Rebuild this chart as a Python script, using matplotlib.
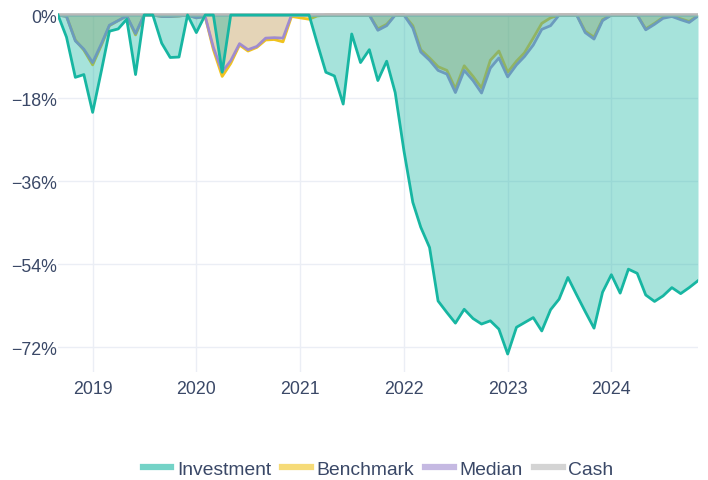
import matplotlib
matplotlib.use("Agg")
import matplotlib.pyplot as plt
from matplotlib.lines import Line2D
from matplotlib.ticker import FuncFormatter, FixedLocator
import matplotlib.dates as mdates
import pandas as pd

plt.rcParams['font.family'] = ['Liberation Sans', 'DejaVu Sans']

# ---- data (drawdown, %) monthly from Sep 2018 to Nov 2024 ----
start_month = "2018-09-01"
investment = [0, -4.8, -13.5, -12.9, -21.1, -12.0, -3.5, -3.0, -0.9, -12.9,
              0, 0, -6.1, -9.2, -9.1, 0, -3.8, 0, 0, -12.4,
              0, 0, 0, 0, 0, 0, 0, 0, 0, 0,
              -6.0, -12.4, -13.2, -19.3, -4.1, -10.3, -7.5, -14.2, -10.0, -16.8,
              -29.5, -40.6, -46.0, -50.4, -62.0, -64.5, -66.8, -63.8, -65.8, -67.0,
              -66.3, -68.1, -73.5, -67.7, -66.7, -65.6, -68.5, -63.9, -61.6, -56.9,
              -60.7, -64.3, -67.9, -60.1, -56.3, -60.3, -55.1, -56.0, -60.7, -62.1,
              -60.9, -59.1, -60.4, -59.1, -57.6]
benchmark = [0, -0.3, -5.4, -7.6, -10.8, -6.5, -2.3, -1.2, -0.2, -4.3,
             0, 0, -0.3, -0.3, -0.2, 0, -0.6, -0.3, -7.5, -13.3,
             -10.5, -6.5, -7.8, -7.0, -5.4, -5.3, -5.8, -0.3, -0.6, -0.9,
             -0.2, 0, 0, 0, 0, 0, 0, -3.0, -2.0, 0,
             0, -2.3, -7.5, -9.3, -11.2, -12.0, -16.0, -11.0, -13.3, -15.8,
             -9.8, -7.8, -12.4, -10.0, -8.2, -5.0, -1.8, -0.6, 0, 0,
             0, -3.5, -4.8, -1.0, 0, 0, 0, 0, -3.0, -1.8,
             -0.5, -0.2, -0.8, -1.4, -0.1]
median = [0, -0.3, -5.6, -7.4, -10.3, -6.2, -2.2, -1.2, -0.2, -4.0,
          0, 0, -0.3, -0.3, -0.2, 0, -0.6, -0.3, -7.0, -12.3,
          -9.9, -6.2, -7.5, -6.8, -5.0, -4.9, -5.0, 0, 0, 0,
          0, 0, 0, 0, 0, 0, 0, -3.3, -2.3, 0,
          0, -2.8, -8.0, -9.8, -12.0, -12.8, -16.8, -12.0, -14.2, -16.9,
          -11.5, -9.3, -13.4, -10.8, -9.0, -6.5, -3.1, -2.3, 0, 0,
          0, -3.8, -5.2, -1.2, 0, 0, 0, 0, -3.2, -2.0,
          -0.7, -0.3, -1.0, -1.6, -0.2]
cash = [0] * len(investment)

series_names = ["Investment", "Benchmark", "Median", "Cash"]
y_ticks = [0, -18, -36, -54, -72]
x_tick_years = [2019, 2020, 2021, 2022, 2023, 2024]

dates = pd.date_range(start_month, periods=len(investment), freq="MS")

# ---- styling ----
c_inv = "#17b6a2"
c_bench = "#f0c31e"
c_med = "#9f8bcf"
c_cash = "#b8b8b8"
text_color = "#3a4867"
grid_color = "#ebeef5"

fig = plt.figure(figsize=(7.08, 4.81), dpi=100)
ax = fig.add_axes([58 / 708, 1 - 373 / 481, 640 / 708, (373 - 14) / 481])

# benchmark & median under investment
ax.fill_between(dates, benchmark, 0, color=(240/255, 195/255, 30/255), alpha=0.32, lw=0, zorder=2)
ax.plot(dates, benchmark, color=c_bench, lw=2, zorder=3)
ax.fill_between(dates, median, 0, color=(140/255, 120/255, 190/255), alpha=0.2, lw=0, zorder=4)
ax.plot(dates, median, color=c_med, lw=2, zorder=5)
ax.plot(dates, cash, color=c_cash, lw=2.6, zorder=6)
ax.fill_between(dates, investment, 0, color=c_inv, alpha=0.38, lw=0, zorder=7)
ax.plot(dates, investment, color=c_inv, lw=2, zorder=8)

ax.set_xlim(dates[0], dates[-1])
ax.set_ylim(-77.4, 0.45)

ax.yaxis.set_major_locator(FixedLocator(y_ticks))
ax.yaxis.set_major_formatter(FuncFormatter(lambda v, p: f"{int(v)}%".replace("-", "\u2212")))
xt = [mdates.date2num(pd.Timestamp(f"{y}-01-01")) for y in x_tick_years]
ax.set_xticks(xt)
ax.set_xticklabels([str(y) for y in x_tick_years])

ax.tick_params(axis="both", length=0, labelsize=12.8, colors=text_color)
ax.tick_params(axis="y", pad=1)
ax.tick_params(axis="x", pad=6)
ax.grid(True, color=grid_color, lw=1)
ax.set_axisbelow(True)
for s in ax.spines.values():
    s.set_visible(False)

handles = [Line2D([0], [0], color=c, lw=4.5, alpha=0.6) for c in [c_inv, c_bench, c_med, c_cash]]
leg = fig.legend(handles, series_names, loc="center", bbox_to_anchor=(378 / 708, 1 - 470 / 481),
                 ncol=4, frameon=False, fontsize=13.9, handlelength=1.5, handletextpad=0.3,
                 columnspacing=0.55, borderaxespad=0)
for t in leg.get_texts():
    t.set_color(text_color)

fig.savefig("out.png", dpi=100)
